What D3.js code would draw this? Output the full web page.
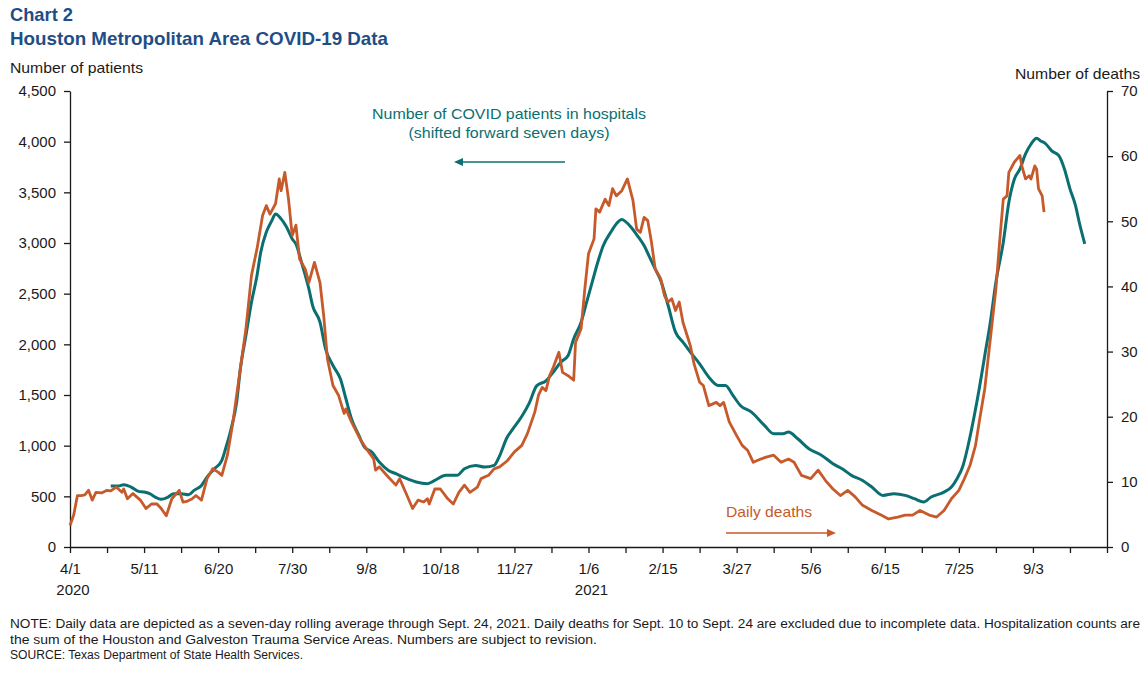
<!DOCTYPE html>
<html><head><meta charset="utf-8">
<script src="https://cdn.jsdelivr.net/npm/d3@7"></script>
<style>
html,body{margin:0;padding:0;background:#fff;}
svg{display:block;font-family:"Liberation Sans",Arial,sans-serif;}
</style></head>
<body><svg id="c" width="1146" height="676"></svg>
<script>
// ---- data ----
const startDate = "2020-04-01";           // day 0 of the series
// daily deaths (7-day avg), right axis; day offsets from startDate
const deathDays = [0,2,4,6,8,10,12,14,17,20,22,25,28,29,31,34,38,41,44,47,49,52,55,59,61,63,66,68,71,74,77,80,82,85,88,92,95,98,101,104,106,108,111,113,114,116,118,120,122,124,127,129,132,135,137,139,142,145,148,149,152,157,160,164,165,167,172,176,178,182,185,188,191,193,194,197,200,204,207,210,213,216,220,222,226,229,232,236,240,244,247,251,253,255,257,259,261,264,266,269,272,273,276,278,280,283,284,286,289,291,293,295,298,301,304,306,308,310,312,314,316,319,321,323,325,327,329,331,335,337,340,342,345,349,351,353,356,360,363,366,369,373,376,380,384,388,391,395,400,404,408,412,416,420,424,428,433,438,442,447,451,455,459,464,468,472,476,480,483,486,489,491,494,496,498,500,502,504,506,507,510,513,514,516,518,519,521,522,523,525,526];
const deathValues = [3.3,4.9,7.9,7.9,8.0,8.7,7.2,8.4,8.3,8.7,8.6,9.2,8.4,8.9,7.4,8.2,7.2,5.9,6.6,6.6,6.0,4.8,7.4,8.7,6.9,7.0,7.4,7.9,7.2,10.5,12,11.5,11,14.1,19.2,27.4,33.5,41.7,45.8,50.9,52.4,51.1,52.7,56.5,54.7,57.5,53.4,47.8,49.4,44.2,42.7,40.6,43.7,40.6,35.5,28.9,24.8,23.3,20.5,21.2,19.2,16.4,15.1,13.5,11.8,12.3,10.7,9.5,10.5,7.9,5.9,7.2,6.9,7.4,6.6,8.9,8.9,7.4,6.6,8.4,9.5,8.4,9.2,10.5,11,12,12.3,13.2,14.6,15.6,17.4,20.7,23.3,24.5,24,26.3,27.6,29.9,26.8,26.3,25.6,31.4,33.5,39.6,45,47.3,51.9,51.4,53.4,52.4,55,53.9,54.7,56.5,53.2,48.8,48.3,50.6,50.1,46.8,42.7,41.2,38.6,37.6,38.1,36.3,37.6,34.5,30.9,28.1,25.3,24.8,21.7,22.2,21.7,22.2,19.2,17.1,15.6,14.8,13,13.5,13.8,14.1,13,13.5,13,11,10.5,11.8,10.2,8.9,7.9,8.7,7.7,6.4,5.6,4.9,4.3,4.6,4.9,4.9,5.6,4.9,4.6,5.6,7.4,8.7,10.5,12.5,15.6,19.2,24.3,29.4,34.5,39.6,46.8,53.4,53.9,57.5,59.1,60.1,58.5,56.5,57,56.5,58.5,58,55,53.9,51.4];
// COVID patients in hospitals (shifted forward seven days), left axis
const patientDays = [22,26,29,33,37,40,43,46,49,53,56,60,64,67,71,74,78,82,84,87,90,92,95,98,101,103,106,109,111,114,117,120,122,125,129,131,135,138,142,146,149,152,156,159,163,167,172,176,182,187,193,197,203,209,213,219,224,229,232,236,239,244,248,252,257,261,265,269,272,276,279,282,285,288,292,295,298,300,303,307,310,313,316,319,323,327,331,335,340,345,350,354,358,362,368,375,380,385,388,393,399,406,412,417,422,428,433,439,445,451,456,461,465,472,476,479,482,485,488,491,494,497,500,504,507,510,513,516,519,522,524,527,530,534,537,540,543,545,548];
const patientValues = [601,601,615,592,549,542,526,493,470,493,526,526,516,559,608,690,772,855,970,1167,1430,1759,2087,2416,2679,2909,3106,3221,3287,3238,3156,3040,2991,2810,2547,2383,2219,1956,1791,1660,1463,1265,1101,986,937,838,756,723,674,641,625,657,707,707,772,805,789,805,900,1080,1160,1290,1420,1590,1640,1726,1824,1890,2054,2219,2416,2613,2810,2975,3106,3188,3231,3211,3156,3057,2975,2860,2745,2630,2383,2120,2022,1923,1808,1676,1594,1594,1496,1397,1331,1200,1118,1118,1134,1068,970,904,822,772,707,657,592,509,526,509,477,444,493,542,592,674,789,1002,1265,1561,1890,2219,2613,3008,3402,3632,3731,3879,3977,4033,4010,3977,3912,3862,3731,3534,3369,3205,2991];
const leftTicks = [0,500,1000,1500,2000,2500,3000,3500,4000,4500];
const rightTicks = [0,10,20,30,40,50,60,70];
const xTickStep = 20;       // days between x ticks
const xLastDay = 560;       // axis end (day offset)
const yearLabels = [{day:0,text:"2020"},{day:280,text:"2021"}];
const titleLines = ["Chart 2","Houston Metropolitan Area COVID-19 Data"];
const noteLines = [
 "NOTE: Daily data are depicted as a seven-day  rolling average  through  Sept. 24, 2021. Daily deaths for Sept. 10 to Sept. 24 are excluded due to incomplete data. Hospitalization counts are",
 "the sum of the Houston  and Galveston  Trauma  Service  Areas. Numbers  are subject to revision.",
 "SOURCE: Texas Department  of State Health  Services."
];

// ---- drawing ----
const teal = "#0b6f72", orange = "#c65a2a", navy = "#1f4e85", ink = "#1a1a1a";
const svg = d3.select("#c");
const base = d3.timeParse("%Y-%m-%d")(startDate);
const dayDate = d => d3.timeDay.offset(base, d);

const L = 70, R = 1107, T = 91, B = 547;
const x = d3.scaleTime().domain([dayDate(0), dayDate(xLastDay)]).range([L, R]);
const yL = d3.scaleLinear().domain([0,4500]).range([B,T]);
const yR = d3.scaleLinear().domain([0,70]).range([B,T]);

function txt(xp, yp, s, opts={}) {
  const t = svg.append("text").attr("x",xp).attr("y",yp).attr("fill",opts.fill||ink)
    .attr("font-size",opts.size||15).text(s);
  if (opts.bold) t.attr("font-weight","bold");
  if (opts.anchor) t.attr("text-anchor",opts.anchor);
  if (opts.len) t.attr("textLength",opts.len).attr("lengthAdjust","spacingAndGlyphs");
  return t;
}

// titles
txt(10,21,titleLines[0],{fill:navy,bold:true,size:18.5,len:63});
txt(10,45,titleLines[1],{fill:navy,bold:true,size:18.5,len:378});
txt(10,73,"Number of patients",{len:133});
txt(1140,79,"Number of deaths",{anchor:"end",len:125});

// axes
const fmt = d3.format(",");
const gl = svg.append("g").attr("transform",`translate(${L},0)`)
  .call(d3.axisLeft(yL).tickValues(leftTicks).tickFormat(fmt).tickSize(6).tickSizeOuter(0).tickPadding(8));
const gr = svg.append("g").attr("transform",`translate(${R},0)`)
  .call(d3.axisRight(yR).tickValues(rightTicks).tickSize(6).tickSizeOuter(0).tickPadding(8));
const xTicks = d3.range(0, xLastDay+1, xTickStep);
const fmtD = d3.timeFormat("%-m/%-d");
const gx = svg.append("g").attr("transform",`translate(0,${B})`)
  .call(d3.axisBottom(x).tickValues(xTicks.map(dayDate))
    .tickFormat((d,i)=> (i%2===0 && i*xTickStep < xLastDay) ? fmtD(d) : "")
    .tickSize(6).tickSizeOuter(0).tickPadding(10));
[gl,gr,gx].forEach(g=>{
  g.selectAll("path,line").attr("stroke",ink).attr("stroke-width",1.3);
  g.selectAll("text").attr("fill",ink).attr("font-size",15).attr("font-family","Liberation Sans, Arial, sans-serif");
});
yearLabels.forEach(yl=>{
  txt(x(dayDate(yl.day))+3,595,yl.text,{anchor:"middle"});
});

// lines
const patients = patientDays.map((d,i)=>({date:dayDate(d), v:patientValues[i]}));
const deaths = deathDays.map((d,i)=>({date:dayDate(d), v:deathValues[i]}));
svg.append("path").datum(patients).attr("fill","none").attr("stroke",teal).attr("stroke-width",3)
  .attr("stroke-linejoin","round")
  .attr("d", d3.line().x(d=>x(d.date)).y(d=>yL(d.v)).curve(d3.curveMonotoneX));
svg.append("path").datum(deaths).attr("fill","none").attr("stroke",orange).attr("stroke-width",2.8)
  .attr("stroke-linejoin","round")
  .attr("d", d3.line().x(d=>x(d.date)).y(d=>yR(d.v)));

// annotations
txt(509,119,"Number of COVID patients in hospitals",{anchor:"middle",fill:teal,len:274});
txt(509,138,"(shifted forward seven days)",{anchor:"middle",fill:teal,len:201});
svg.append("line").attr("x1",565).attr("x2",462).attr("y1",162).attr("y2",162).attr("stroke",teal).attr("stroke-width",1.3);
svg.append("path").attr("d","M454,162 L463,158 L463,166 Z").attr("fill",teal);

txt(726,517,"Daily deaths",{fill:orange,len:86});
svg.append("line").attr("x1",726).attr("x2",828).attr("y1",533).attr("y2",533).attr("stroke",orange).attr("stroke-width",1.3);
svg.append("path").attr("d","M836,533 L827,529 L827,537 Z").attr("fill",orange);

// notes
const noteW = [1130, 587, 293];
noteLines.forEach((t,i)=>{
  txt(10,628+i*15.5,t,{size:12,len:noteW[i]});
});
</script></body></html>
